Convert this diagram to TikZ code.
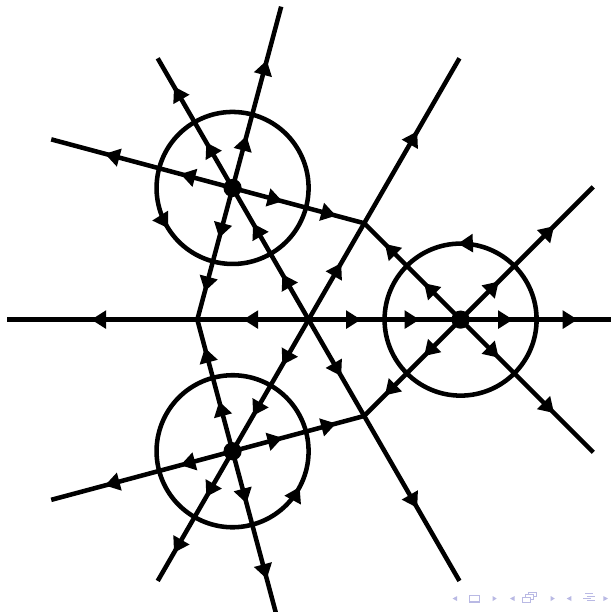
\documentclass[tikz,border=0pt]{standalone}
\usetikzlibrary{arrows.meta,decorations.markings,calc}
\definecolor{navcol}{RGB}{185,185,228}
\tikzset{
  ftip/.tip={Triangle[length=5.6pt,width=6.6pt]},
  fl/.style={line width=1.7pt},
  inner/.style={line width=1.7pt, line cap=round},
  ar/.style={postaction={decorate,decoration={markings,mark=at position #1 with {\arrow{ftip}}}}},
  dot/.style={circle, fill=black, inner sep=0pt, minimum size=0.24cm},
  nav/.style={navcol, line width=0.5pt}
}
\begin{document}
\begin{tikzpicture}
\useasboundingbox (-4.06,-3.847) rectangle (3.98,4.205);
% points
\coordinate (O) at (0,0);
\coordinate (A) at (120:2);
\coordinate (B) at (0:2);
\coordinate (C) at (240:2);
\coordinate (P1) at (300:1.464);
\coordinate (P2) at (60:1.464);
\coordinate (P3) at (180:1.464);
\coordinate (EA) at (120:3.97);
\coordinate (EB) at (0:3.98);
\coordinate (EC) at (240:3.97);
\coordinate (E1) at (300:3.97);
\coordinate (E2) at (60:3.97);
\coordinate (E3) at (180:3.97);
\coordinate (A1) at ($(A)+(75:2.47)$);
\coordinate (A2) at ($(A)+(165:2.47)$);
\coordinate (B1) at ($(B)+(45:2.47)$);
\coordinate (B2) at ($(B)+(-45:2.47)$);
\coordinate (C1) at ($(C)+(195:2.47)$);
\coordinate (C2) at ($(C)+(285:2.47)$);
% long lines through the centre
\draw[fl, ar=0.69cm, ar=1.46cm, ar=2.69cm, ar=3.54cm] (O) -- (A) -- (EA);
\draw[fl, ar=0.69cm, ar=1.46cm, ar=2.69cm, ar=3.54cm] (O) -- (B) -- (EB);
\draw[fl, ar=0.69cm, ar=1.46cm, ar=2.69cm, ar=3.54cm] (O) -- (C) -- (EC);
\draw[fl, ar=0.86cm, ar=2.86cm] (O) -- (P1) -- (E1);
\draw[fl, ar=0.86cm, ar=2.86cm] (O) -- (P2) -- (E2);
\draw[fl, ar=0.86cm, ar=2.86cm] (O) -- (P3) -- (E3);
% outer diagonals
\foreach \p/\q in {A/A1, A/A2, B/B1, B/B2, C/C1, C/C2}
  \draw[fl, ar=0.71cm, ar=1.74cm] (\p) -- (\q);
% inner connections
\foreach \p/\q in {A/P2, A/P3, B/P2, B/P1, C/P1, C/P3}
  \draw[inner, ar=0.68cm, ar=1.41cm] (\p) -- (\q);
% circles
\draw[fl, ar=0.2556] (A) ++(120:1) arc[start angle=120, delta angle=360, radius=1];
\draw[fl, ar=0.2556] (B) ++(0:1) arc[start angle=0, delta angle=360, radius=1];
\draw[fl, ar=0.2556] (C) ++(240:1) arc[start angle=240, delta angle=360, radius=1];
% charges
\node[dot] (dA) at (A) {};
\node[dot] (dB) at (B) {};
\node[dot] (dC) at (C) {};
% navigation symbols
\fill[navcol] (1.894,-3.670) -- (1.955,-3.637) -- (1.955,-3.703) -- cycle;
\draw[nav] (2.115,-3.714) rectangle (2.246,-3.626);
\fill[navcol] (2.475,-3.670) -- (2.422,-3.637) -- (2.422,-3.703) -- cycle;
\fill[navcol] (2.650,-3.670) -- (2.711,-3.637) -- (2.711,-3.703) -- cycle;
\draw[nav, fill=white] (2.890,-3.645) rectangle (3.000,-3.589);
\draw[nav, fill=white] (2.851,-3.683) rectangle (2.961,-3.617);
\draw[nav, fill=white] (2.812,-3.721) rectangle (2.922,-3.655);
\fill[navcol] (3.239,-3.670) -- (3.186,-3.637) -- (3.186,-3.703) -- cycle;
\fill[navcol] (3.396,-3.670) -- (3.457,-3.637) -- (3.457,-3.703) -- cycle;
\draw[nav] (3.640,-3.605) -- (3.740,-3.605);
\draw[nav] (3.660,-3.640) -- (3.764,-3.640);
\draw[nav] (3.614,-3.670) -- (3.720,-3.670);
\draw[nav] (3.660,-3.700) -- (3.764,-3.700);
\fill[navcol] (3.940,-3.670) -- (3.878,-3.637) -- (3.878,-3.703) -- cycle;
\end{tikzpicture}
\end{document}
